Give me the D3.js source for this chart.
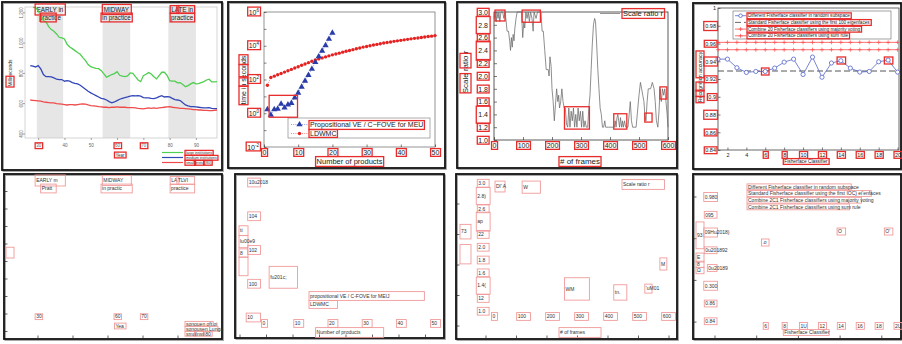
<!DOCTYPE html>
<html>
<head>
<meta charset="utf-8">
<script src="https://cdn.jsdelivr.net/npm/d3@7/dist/d3.min.js"></script>
<style>
html, body { margin: 0; padding: 0; background: #fff; }
svg { display: block; }
</style>
</head>
<body>
<svg id="fig" width="902" height="344"></svg>
<script>
// ---------- A: response time per year, by institution size ----------
const years = [27,28,29,30,31,32,33,34,35,36,37,38,39,40,41,42,43,44,45,46,47,48,49,50,51,52,53,54,55,56,57,58,59,60,61,62,63,64,65,66,67,68,69,70,71,72,73,74,75,76,77,78,79,80,81,82,83,84,85,86,87,88,89,90,91,92,93,94,95,96,97,98];
const largeInst = [null,1232,1231,1211,1178,1145,1136,1105,1086,1075,1057,1035,1031,1024,989,971,960,947,934,923,901,881,855,841,835,830,828,815,793,771,780,789,795,808,784,778,775,780,800,797,775,753,742,782,791,802,793,775,760,782,804,804,784,749,745,745,734,736,723,709,716,727,736,727,729,736,742,753,758,740,740,742];
const mediumInst = [848,844,839,848,826,789,775,775,773,767,758,756,756,745,749,745,736,731,727,718,705,692,679,668,659,650,641,632,628,621,610,602,608,617,626,632,637,641,646,650,648,650,646,637,635,635,632,630,635,643,650,641,643,641,632,624,621,617,602,588,582,577,577,575,573,571,569,569,571,566,564,564];
const smallInst = [621,619,617,615,613,608,606,604,602,602,597,595,593,591,588,591,591,588,591,593,595,593,588,584,582,580,577,575,573,573,571,573,573,575,573,573,573,571,571,571,569,566,564,562,566,569,566,569,566,569,571,573,575,577,573,571,569,566,566,564,562,560,558,558,555,555,553,553,551,551,553,555];
const eraBands = [[29.5, 39.5], [54.5, 65], [79.5, 90]];
const eraNames = [["EARLY in", "practice"], ["MIDWAY", "in practice"], ["LATE in", "practice"]];
const yTicksA = [400, 600, 800, 1000, 1200];
const xTicksA = [30, 40, 50, 60, 70, 80, 90];
const namesA = ["large institutions", "medium institutions", "small insts. (80)"];

// ---------- B: run time against number of products ----------
const productsB = [1,2,3,4,5,6,7,8,9,10,11,12,13,14,15,16,17,18,19,20];
const propositionalVE = [1.7,0.8,1.7,1.8,3.6,2.1,3.2,4.0,8.3,16,36,83,182,417,1050,2290,5000,10500,25100,57500];
const productsL = [1,2,3,4,5,6,7,8,9,10,11,12,13,14,15,16,17,18,19,20,21,22,23,24,25,26,27,28,29,30,31,32,33,34,35,36,37,38,39,40,41,42,43,44,45,46,47,48,49,50];
const ldwmc = [46,132,158,191,229,275,331,398,479,575,692,832,1000,1202,1445,1660,1905,2188,2512,2884,3236,3631,4169,4677,5248,5888,6607,7413,8318,9120,10000,10965,12023,13183,14454,15488,16596,18197,19498,20893,22387,23988,25704,27542,28840,30903,33113,35481,37154,39811];
const yTicksB = [1e-2, 1, 1e2, 1e4, 1e6];
const xTicksB = [0, 10, 20, 30, 40, 50];
const namesB = ["Propositional VE / C\u2212FOVE for MEU", "LDWMC"];

// ---------- C: scale ratio over frames ----------
const framesC = [0,3,8,10,14,17,20,24,30,34,38,42,45,50,54,57,60,63,66,69,72,76,80,95,99,103,106,110,114,118,122,126,131,135,138,145,150,162,166,170,175,180,187,190,193,197,200,204,208,212,216,220,223,226,230,234,238,242,246,250,254,258,262,266,270,274,278,282,286,290,294,298,302,306,310,314,318,323,327,331,335,339,343,347,350,354,358,362,366,370,374,378,382,385,395,415,418,421,424,427,430,433,436,440,443,446,450,454,462,466,470,474,478,490,496,500,505,509,513,517,520,524,528,532,540,546,552,556,560,565,569,573,577,581,585,589,593,597,600];
const ratioC = [2.9,3.0,2.85,3.0,2.9,3.0,2.85,3.0,3.0,2.9,
  3.0,2.85,2.7,2.7,2.55,2.4,2.6,2.45,2.65,2.55,
  2.75,2.9,3.0,3.0,2.6,2.85,2.75,3.0,2.9,3.0,
  2.85,3.0,2.9,2.7,3.0,2.9,3.0,3.0,2.7,2.7,
  2.4,2.1,2.1,2.0,2.3,2.15,1.8,1.6,1.3,1.55,
  1.8,1.6,1.7,1.5,1.6,1.8,1.6,1.5,1.5,1.25,
  1.2,1.5,1.2,1.45,1.3,1.5,1.2,1.4,1.2,1.5,
  1.3,1.45,1.2,1.45,1.2,1.3,1.2,1.2,1.5,1.7,
  2.1,2.5,2.8,2.9,2.85,2.5,2.1,1.8,1.5,1.4,
  1.2,1.2,1.3,1.2,1.2,1.2,1.3,1.2,1.35,1.4,
  1.3,1.2,1.35,1.2,1.3,1.2,1.3,1.2,1.2,1.4,
  1.6,1.3,1.2,1.2,1.5,1.7,1.9,1.8,1.7,1.6,
  1.4,1.3,1.6,1.8,1.8,1.9,1.8,1.6,1.3,1.2,
  1.45,1.8,1.6,1.8,1.7,1.8,1.6,1.4,1.2];
const yTicksC = [1.0,1.2,1.4,1.6,1.8,2.0,2.2,2.4,2.6,2.8,3.0];
const xTicksC = [0, 100, 200, 300, 400, 500, 600];

// ---------- D: recognition accuracy per Fisherface classifier ----------
const classifiers = [1,2,3,4,5,6,7,8,9,10,11,12,13,14,15,16,17,18,19,20];
const randomSubspace = [0.9424,0.9424,0.9327,0.9274,0.9285,0.9285,0.9323,0.9390,0.9424,0.9251,0.9447,0.9220,0.9380,0.9406,0.9323,0.9278,0.9285,0.9394,0.9413,0.9278];
const standard100 = [0.929,0.929,0.929,0.929,0.929,0.929,0.929,0.929,0.929,0.929,0.929,0.929,0.929,0.929,0.929,0.929,0.929,0.929,0.929,0.929];
const majorityVote = [0.9613,0.9613,0.9613,0.9613,0.9613,0.9613,0.9613,0.9613,0.9613,0.9613,0.9613,0.9613,0.9613,0.9613,0.9613,0.9613,0.9613,0.9613,0.9613,0.9613];
const sumRule = [0.953,0.953,0.953,0.953,0.953,0.953,0.953,0.953,0.953,0.953,0.953,0.953,0.953,0.953,0.953,0.953,0.953,0.953,0.953,0.953];
const yTicksD = [0.84,0.86,0.88,0.9,0.92,0.94,0.96,0.98,1];
const xTicksD = [2,4,6,8,10,12,14,16,18,20];
const namesD = ["Different Fisherface classifier in random subspace",
  "Standard Fisherface classifier using the first 100 eigenfaces",
  "Combine 20 Fisherface classifiers using majority voting",
  "Combine 20 Fisherface classifiers using sum rule"];

// ---------- recognised text regions (text key or data region -> reading) ----------
const ocrA = [
  {k:"A-era0-0", t:"EARLY m", pad:[1.5,2]}, {k:"A-era0-1", t:"Pratt", f:[0.12,0.72]},
  {k:"A-era1-0", t:"MIDWAY", pad:[1.5,1.5]}, {k:"A-era1-1", t:"in practic"},
  {k:"A-era2-0", t:"LA", f:[0,0.3]}, {k:"A-era2-0", t:"TLVI", f:[0.3,1]},
  {k:"A-era2-1", t:"practice"},
  {k:"A-ylab", t:"", f:[0,0.36]},
  {k:"A-x-30", t:"30"}, {k:"A-x-60", t:"60"}, {k:"A-x-70", t:"70"},
  {k:"A-xlab", t:"Yea"},
  {k:"A-leg0", t:"sonouen oft.oi"}, {k:"A-leg1", t:"sonousen Lunga"},
  {k:"A-leg2", t:"sma", f:[0,0.34]}, {k:"A-leg2", t:"Insti", f:[0.38,0.66]}, {k:"A-leg2", t:"80", f:[0.76,1]}
];
const ocrB = [
  {k:"B-y-6", t:"10u2018"}, {k:"B-y-4", t:"104"}, {k:"B-y-2", t:"102"}, {k:"B-y-0", t:"100"}, {k:"B-y--2", t:"10"},
  {k:"B-x-0", t:"0"}, {k:"B-x-10", t:"10"}, {k:"B-x-20", t:"20"}, {k:"B-x-30", t:"30"}, {k:"B-x-40", t:"40"}, {k:"B-x-50", t:"50"},
  {k:"B-xlab", t:"Number of products"},
  {k:"B-ylab", t:"ti", f:[0.82,1]}, {k:"B-ylab", t:"lu00e9", f:[0.57,0.8]}, {k:"B-ylab", t:"8", f:[0.38,0.53]}, {k:"B-ylab", t:"", f:[0,0.36]},
  {r:[1.5, 9.8, 0.58, 11.5], t:"fu201c;"},
  {k:"B-leg0", t:"propositional VE / C-FOVE for MEIJ"}, {k:"B-leg1", t:"LDWMC"}
];
const ocrC = [
  {k:"C-y-3.0", t:"3.0"}, {k:"C-y-2.8", t:"2.8)", pad:[2,5]}, {k:"C-y-2.6", t:"2.6"},
  {k:"C-y-2.4", t:"ap", pad:[2,6]}, {k:"C-y-2.2", t:"22"}, {k:"C-y-2.0", t:"2.0"},
  {k:"C-y-1.8", t:"1.8"}, {k:"C-y-1.6", t:"1.6"}, {k:"C-y-1.4", t:"1.4(", pad:[2,5]},
  {k:"C-y-1.2", t:"12"}, {k:"C-y-1.0", t:"1.0"},
  {k:"C-ylab", t:"73", f:[0.6,0.92]}, {k:"C-ylab", t:"", f:[0.02,0.45]},
  {r:[3.5, 38, 3.03, 2.86], t:"Dl' A"}, {r:[97, 160, 3.03, 2.84], t:"W"},
  {r:[243, 329, 1.52, 1.17], t:"WM"}, {r:[413, 458, 1.41, 1.17], t:"tn."},
  {r:[520, 545, 1.42, 1.28], t:"'uM01"}, {r:[572, 596, 1.83, 1.64], t:"M"},
  {k:"C-x-0", t:"0"}, {k:"C-x-100", t:"100"}, {k:"C-x-200", t:"200"}, {k:"C-x-300", t:"300"},
  {k:"C-x-400", t:"400"}, {k:"C-x-500", t:"500"}, {k:"C-x-600", t:"600"},
  {k:"C-xlab", t:"# of frames"}, {k:"C-leg0", t:"Scale ratio r"}
];
const ocrD = [
  {k:"D-leg0", t:"Different Fisherface classifier in random subspace"},
  {k:"D-leg1", t:"Standard Fisherface classifier using the first IOC) ei'enfaces"},
  {k:"D-leg2", t:"Combine 2C1 Fisherface classifiers using majority voting"},
  {k:"D-leg3", t:"Combine 2C1 Fisherface classifiers using sum rule"},
  {k:"D-y-0.98", t:"0.980", pad:[1.5,1.5]}, {k:"D-y-0.96", t:"095"}, {k:"D-y-0.94", t:"09Hu2018)", pad:[1.5,1.5]},
  {k:"D-y-0.92", t:"0u201892"}, {k:"D-y-0.9", t:"0u20189"}, {k:"D-y-0.88", t:"0.300", pad:[1.5,1.5]},
  {k:"D-y-0.86", t:"0.86"}, {k:"D-y-0.84", t:"0.84"},
  {k:"D-ylab", t:"93", f:[0.49,1]}, {k:"D-ylab", t:"E", f:[0.23,0.39]}, {k:"D-ylab", t:"8", f:[0.12,0.23]}, {k:"D-ylab", t:"\u03a9", f:[0,0.11]},
  {r:[5.6, 6.4, 0.9324, 0.9245], t:".o"}, {r:[13.6, 14.5, 0.9448, 0.9369], t:"O"}, {r:[18.6, 19.5, 0.9448, 0.9369], t:"O'"},
  {k:"D-x-6", t:"6"}, {k:"D-x-8", t:"8"}, {k:"D-x-10", t:"1U"}, {k:"D-x-12", t:"12"},
  {k:"D-x-14", t:"14"}, {k:"D-x-16", t:"16"}, {k:"D-x-18", t:"18"}, {k:"D-x-20", t:"2U"},
  {k:"D-xlab", t:"Fisherface Classifier"}
];

// ================= drawing =================
const FONT = '"Liberation Sans", Arial, Helvetica, sans-serif';
const svg = d3.select("#fig").attr("font-family", FONT);
const SHIFT = 171;                     // vertical offset of the text-reading row
const layerFrames = svg.append("g");
const layerCharts = svg.append("g");
const layerBoxes = svg.append("g");

function frame(x0, y0, x1, y1) {
  layerFrames.append("rect").attr("x", x0 + 1.2).attr("y", y0 + 1.2)
    .attr("width", x1 - x0).attr("height", y1 - y0)
    .attr("fill", "none").attr("stroke", "#a0a0a0").attr("stroke-width", 1.4);
  layerFrames.append("rect").attr("x", x0).attr("y", y0)
    .attr("width", x1 - x0).attr("height", y1 - y0)
    .attr("fill", "none").attr("stroke", "#111").attr("stroke-width", 1.8);
}
function tidy(g, size, color) {
  g.attr("font-size", size).attr("font-family", FONT);
  g.selectAll("text").attr("fill", color);
  g.selectAll("line").attr("stroke", color).attr("stroke-width", 0.6);
  g.select(".domain").remove();
  return g;
}
function plotBox(g, xs, ys, color, w) {
  const [x0, x1] = xs.range(), [y1, y0] = ys.range();
  g.append("rect").attr("x", x0).attr("y", y0).attr("width", x1 - x0).attr("height", y1 - y0)
    .attr("fill", "none").attr("stroke", color).attr("stroke-width", w);
}

// ---------------- panel A ----------------
{
  const g = layerCharts.append("g");
  const xs = d3.scaleLinear().domain([25, 98]).range([25, 217]);
  const ys = d3.scaleLinear().domain([370, 1235]).range([138, 7]);
  g.selectAll(".band").data(eraBands).join("rect")
    .attr("x", d => xs(d[0])).attr("width", d => xs(d[1]) - xs(d[0]))
    .attr("y", ys.range()[1]).attr("height", ys.range()[0] - ys.range()[1])
    .attr("fill", "#e6e6e6");
  plotBox(g, xs, ys, "#c4c4c4", 0.7);

  const ay = g.append("g").attr("transform", `translate(${xs.range()[0]},0)`)
    .call(d3.axisLeft(ys).tickValues(yTicksA).tickSize(2));
  tidy(ay, 4.5, "#666");
  ay.selectAll(".tick text").attr("transform", "rotate(-90)").attr("x", 0).attr("y", -2.5)
    .attr("dy", 0).attr("text-anchor", "middle").attr("data-k", d => "A-y-" + d);
  const ax = g.append("g").attr("transform", `translate(0,${ys.range()[0]})`)
    .call(d3.axisBottom(xs).tickValues(xTicksA).tickSize(2).tickPadding(4));
  tidy(ax, 4.5, "#666");
  ax.selectAll(".tick text").attr("data-k", d => "A-x-" + d);

  eraBands.forEach((b, i) => {
    const cx = (xs(b[0]) + xs(b[1])) / 2;
    eraNames[i].forEach((t, j) => g.append("text").attr("x", cx).attr("y", 12 + j * 7.5)
      .attr("text-anchor", "middle").attr("font-size", 6.3).attr("fill", "#222")
      .attr("data-k", `A-era${i}-${j}`).text(t));
  });

  const seriesA = [
    {vals: largeInst, color: "#4fcf4f"},
    {vals: mediumInst, color: "#3346b8"},
    {vals: smallInst, color: "#ef4b4b"}
  ];
  const line = d3.line().defined(d => d[1] != null).x(d => xs(d[0])).y(d => ys(d[1]));
  seriesA.forEach(s => g.append("path").datum(years.map((y, i) => [y, s.vals[i]]))
    .attr("d", line).attr("fill", "none").attr("stroke", s.color).attr("stroke-width", 1.3));

  seriesA.forEach((s, i) => {
    const y = 152.5 + i * 5;
    g.append("line").attr("x1", 162).attr("x2", 183).attr("y1", y).attr("y2", y)
      .attr("stroke", s.color).attr("stroke-width", 1.2);
    g.append("text").attr("x", 186).attr("y", y + 1.3).attr("font-size", 3.6).attr("fill", "#333")
      .attr("data-k", "A-leg" + i).text(namesA[i]);
  });
  g.append("text").attr("transform", "translate(12,73) rotate(-90)").attr("text-anchor", "middle")
    .attr("font-size", 5).attr("fill", "#333").attr("data-k", "A-ylab").text("Milliseconds");
  g.append("text").attr("x", 120).attr("y", 156.5).attr("text-anchor", "middle")
    .attr("font-size", 4.5).attr("fill", "#333").attr("data-k", "A-xlab").text("Year");
  frame(2, 2, 222, 170);
  window.scaleA = [xs, ys];
}

// ---------------- panel B ----------------
{
  const g = layerCharts.append("g");
  const xs = d3.scaleLinear().domain([0, 50]).range([264, 435]);
  const ys = d3.scaleLog().domain([1e-2, 1e6]).range([147, 12]);
  plotBox(g, xs, ys, "#666", 0.7);
  const decades = [1e-2, 1e-1, 1, 1e1, 1e2, 1e3, 1e4, 1e5, 1e6];
  const ay = g.append("g").attr("transform", `translate(${xs.range()[0]},0)`)
    .call(d3.axisLeft(ys).tickValues(decades).tickSize(-2.5).tickFormat(""));
  tidy(ay, 7, "#333");
  yTicksB.forEach(v => {
    const e = Math.round(Math.log10(v));
    const t = g.append("text").attr("x", 259).attr("y", ys(v) + 2.5).attr("text-anchor", "end")
      .attr("font-size", 7).attr("fill", "#222").attr("data-k", "B-y-" + e);
    t.append("tspan").text("10");
    t.append("tspan").attr("dy", -3).attr("font-size", 4.5).text(e);
  });
  const ax = g.append("g").attr("transform", `translate(0,${ys.range()[0]})`)
    .call(d3.axisBottom(xs).tickValues(xTicksB).tickSize(-2.5).tickPadding(3));
  tidy(ax, 7, "#222");
  ax.selectAll(".tick text").attr("data-k", d => "B-x-" + d);

  const line = d3.line().x(d => xs(d[0])).y(d => ys(d[1]));
  const blue = productsB.map((p, i) => [p, propositionalVE[i]]);
  const red = productsL.map((p, i) => [p, ldwmc[i]]);
  g.append("path").datum(red).attr("d", line).attr("fill", "none")
    .attr("stroke", "#f06a6a").attr("stroke-width", 0.8).attr("stroke-dasharray", "1,1.2");
  g.append("path").datum(blue).attr("d", line).attr("fill", "none")
    .attr("stroke", "#7888d8").attr("stroke-width", 0.8).attr("stroke-dasharray", "1,1.2");
  g.selectAll(".dotR").data(red).join("circle").attr("cx", d => xs(d[0])).attr("cy", d => ys(d[1]))
    .attr("r", 1.7).attr("fill", "#e42222");
  const tri = d3.symbol(d3.symbolTriangle, 17);
  g.selectAll(".triB").data(blue).join("path")
    .attr("transform", d => `translate(${xs(d[0])},${ys(d[1])})`).attr("d", tri).attr("fill", "#2a3ca8");

  g.append("rect").attr("x", 288).attr("y", 118).attr("width", 142).attr("height", 20)
    .attr("fill", "#fff").attr("stroke", "#777").attr("stroke-width", 0.6);
  [["#7888d8", "tri"], ["#f06a6a", "dot"]].forEach((m, i) => {
    const y = 124.5 + i * 9;
    g.append("line").attr("x1", 291).attr("x2", 308).attr("y1", y).attr("y2", y)
      .attr("stroke", m[0]).attr("stroke-width", 0.8).attr("stroke-dasharray", "1,1.2");
    if (m[1] === "tri") g.append("path").attr("transform", `translate(299.5,${y})`).attr("d", tri).attr("fill", "#2a3ca8");
    else g.append("circle").attr("cx", 299.5).attr("cy", y).attr("r", 1.7).attr("fill", "#e42222");
    g.append("text").attr("x", 310).attr("y", y + 2.5).attr("font-size", 7).attr("fill", "#222")
      .attr("data-k", "B-leg" + i).text(namesB[i]);
  });
  g.append("text").attr("transform", "translate(246,80) rotate(-90)").attr("text-anchor", "middle")
    .attr("font-size", 7).attr("fill", "#222").attr("data-k", "B-ylab").text("time in seconds");
  g.append("text").attr("x", 349.5).attr("y", 164).attr("text-anchor", "middle")
    .attr("font-size", 7.5).attr("fill", "#222").attr("data-k", "B-xlab").text("Number of products");
  frame(228, 2, 445, 168);
  window.scaleB = [xs, ys];
}

// ---------------- panel C ----------------
{
  const g = layerCharts.append("g");
  const xs = d3.scaleLinear().domain([0, 600]).range([494, 668]);
  const ys = d3.scaleLinear().domain([1, 3]).range([140, 12]);
  const fmt = d3.format(".1f");
  const ay = g.append("g").attr("transform", `translate(${xs.range()[0]},0)`)
    .call(d3.axisLeft(ys).tickValues(yTicksC).tickSize(-3).tickPadding(6).tickFormat(fmt));
  tidy(ay, 7, "#222");
  ay.selectAll(".tick text").attr("data-k", d => "C-y-" + fmt(d));
  const ax = g.append("g").attr("transform", `translate(0,${ys.range()[0]})`)
    .call(d3.axisBottom(xs).tickValues(xTicksC).tickSize(-3).tickPadding(3));
  tidy(ax, 7, "#222");
  ax.selectAll(".tick text").attr("data-k", d => "C-x-" + d);
  plotBox(g, xs, ys, "#333", 0.8);

  const line = d3.line().x(d => xs(d[0])).y(d => ys(d[1]));
  g.append("path").datum(framesC.map((f, i) => [f, ratioC[i]])).attr("d", line)
    .attr("fill", "none").attr("stroke", "#6a6a6a").attr("stroke-width", 0.75);

  g.append("line").attr("x1", 600).attr("x2", 620).attr("y1", 13.5).attr("y2", 13.5)
    .attr("stroke", "#888").attr("stroke-width", 0.9);
  g.append("text").attr("x", 623).attr("y", 16).attr("font-size", 7.5).attr("fill", "#222")
    .attr("data-k", "C-leg0").text("Scale ratio r");
  g.append("text").attr("transform", "translate(468,72) rotate(-90)").attr("text-anchor", "middle")
    .attr("font-size", 8).attr("fill", "#222").attr("data-k", "C-ylab").text("Scale ratio r");
  g.append("text").attr("x", 580).attr("y", 164).attr("text-anchor", "middle")
    .attr("font-size", 8).attr("fill", "#222").attr("data-k", "C-xlab").text("# of frames");
  frame(457, 2, 677, 168);
  window.scaleC = [xs, ys];
}

// ---------------- panel D ----------------
{
  const g = layerCharts.append("g");
  const xs = d3.scaleLinear().domain([1, 20.15]).range([718, 899]);
  const ys = d3.scaleLinear().domain([0.84, 1]).range([150, 8]);
  const ay = g.append("g").attr("transform", `translate(${xs.range()[0]},0)`)
    .call(d3.axisLeft(ys).tickValues(yTicksD).tickSize(-2.5).tickPadding(2).tickFormat(d => String(d)));
  tidy(ay, 5.5, "#222");
  ay.selectAll(".tick text").attr("data-k", d => "D-y-" + d);
  const ax = g.append("g").attr("transform", `translate(0,${ys.range()[0]})`)
    .call(d3.axisBottom(xs).tickValues(xTicksD).tickSize(-2.5).tickPadding(3));
  tidy(ax, 5.5, "#222");
  ax.selectAll(".tick text").attr("data-k", d => "D-x-" + d);
  plotBox(g, xs, ys, "#444", 0.8);

  const line = d3.line().x(d => xs(d[0])).y(d => ys(d[1]));
  const plus = "M-2,0H2M0,-2V2";
  [majorityVote, sumRule].forEach(vals => {
    const pts = classifiers.map((c, i) => [c, vals[i]]);
    g.append("path").datum(pts).attr("d", line).attr("fill", "none")
      .attr("stroke", "#ff4a4a").attr("stroke-width", 0.8);
    g.selectAll(null).data(pts).join("path")
      .attr("transform", d => `translate(${xs(d[0])},${ys(d[1])})`).attr("d", plus)
      .attr("stroke", "#ff4a4a").attr("stroke-width", 0.7).attr("fill", "none");
  });
  g.append("path").datum(classifiers.map((c, i) => [c, standard100[i]])).attr("d", line)
    .attr("fill", "none").attr("stroke", "#555").attr("stroke-width", 1).attr("stroke-dasharray", "6,3");
  const pts = classifiers.map((c, i) => [c, randomSubspace[i]]);
  g.append("path").datum(pts).attr("d", line).attr("fill", "none")
    .attr("stroke", "#5566c8").attr("stroke-width", 0.8);
  g.selectAll(".circD").data(pts).join("circle").attr("cx", d => xs(d[0])).attr("cy", d => ys(d[1]))
    .attr("r", 2.1).attr("fill", "#fff").attr("stroke", "#5566c8").attr("stroke-width", 0.8);

  g.append("rect").attr("x", 733).attr("y", 11).attr("width", 158).attr("height", 28)
    .attr("fill", "#fff").attr("stroke", "#666").attr("stroke-width", 0.6);
  namesD.forEach((n, i) => {
    const y = 15.7 + i * 6.7;
    const ln = g.append("line").attr("x1", 735).attr("x2", 746).attr("y1", y).attr("y2", y)
      .attr("stroke-width", 0.8);
    if (i === 0) {
      ln.attr("stroke", "#5566c8");
      g.append("circle").attr("cx", 740.5).attr("cy", y).attr("r", 1.8)
        .attr("fill", "#fff").attr("stroke", "#5566c8").attr("stroke-width", 0.8);
    } else if (i === 1) {
      ln.attr("stroke", "#444").attr("stroke-dasharray", "6,3");
    } else {
      ln.attr("stroke", "#ff4a4a");
      g.append("path").attr("transform", `translate(740.5,${y})`).attr("d", plus)
        .attr("stroke", "#ff4a4a").attr("stroke-width", 0.7);
    }
    g.append("text").attr("x", 748).attr("y", y + 1.6).attr("font-size", 4.6).attr("fill", "#222")
      .attr("data-k", "D-leg" + i).text(n);
  });
  g.append("text").attr("transform", "translate(702,77) rotate(-90)").attr("text-anchor", "middle")
    .attr("font-size", 5.3).attr("fill", "#222").attr("data-k", "D-ylab").text("Recognition accuracy");
  g.append("text").attr("x", 806).attr("y", 163).attr("text-anchor", "middle")
    .attr("font-size", 4.8).attr("fill", "#222").attr("data-k", "D-xlab").text("Fisherface Classifier");
  frame(693, 3, 901, 169);
  window.scaleD = [xs, ys];
}

// ---------------- lower row: text-reading previews ----------------
const previews = [
  {box: [4, 174, 222, 339], ox: 3, oy: 174, s: 0.35, xt: [100, 200, 300, 400, 500], yt: [50, 100, 150, 200, 250, 300, 350, 400, 450]},
  {box: [235, 174, 444, 338], ox: 240, oy: 174, s: 0.265, xt: [0, 100, 200, 300, 400, 500, 600, 700], yt: []},
  {box: [456, 174, 677, 339], ox: 455.5, oy: 173.5, s: 0.305, xt: [100, 200, 300, 400, 500, 600, 700], yt: [100, 200, 300, 400, 500]},
  {box: [693, 174, 901, 339], ox: 673.3, oy: 155.3, s: 0.417, xt: [100, 200, 300, 400, 500], yt: [100, 200, 300, 400]}
];
previews.forEach(p => {
  const [x0, y0, x1, y1] = p.box;
  frame(x0, y0, x1, y1);
  const sx = d3.scaleLinear().domain([0, 100]).range([p.ox, p.ox + 100 * p.s]);
  const sy = d3.scaleLinear().domain([0, 100]).range([p.oy, p.oy + 100 * p.s]);
  const g = layerCharts.append("g").attr("stroke", "#222").attr("stroke-width", 0.7);
  p.xt.forEach(v => g.append("line").attr("x1", sx(v)).attr("x2", sx(v)).attr("y1", y1 - 1).attr("y2", y1 - 3.5));
  p.yt.forEach(v => g.append("line").attr("y1", sy(v)).attr("y2", sy(v)).attr("x1", x0 + 1).attr("x2", x0 + 3.5));
});

// ---------------- detection boxes (upper row) and their readings (lower row) ----------------
function detect(list, scales) {
  const [xs, ys] = scales;
  list.forEach(d => {
    let node;
    if (d.r) {
      const a = xs(d.r[0]), b = xs(d.r[1]), c = ys(d.r[2]), e = ys(d.r[3]);
      node = layerCharts.append("rect").attr("x", Math.min(a, b)).attr("y", Math.min(c, e))
        .attr("width", Math.abs(b - a)).attr("height", Math.abs(e - c))
        .attr("fill", "none").attr("stroke", "none").node();
    } else {
      node = svg.select(`[data-k="${d.k}"]`).node();
    }
    if (!node) return;
    const bb = node.getBoundingClientRect();
    let x0 = bb.left, x1 = bb.right, y0 = bb.top, y1 = bb.bottom;
    if (d.f) {
      if (bb.height > bb.width) {
        const h = y1 - y0; const a = y1 - h * d.f[1], b = y1 - h * d.f[0]; y0 = a; y1 = b;
      } else {
        const w = x1 - x0; const a = x0 + w * d.f[0], b = x0 + w * d.f[1]; x0 = a; x1 = b;
      }
    }
    if (!d.r) {
      const pad = d.pad || [1, 0.4];
      x0 -= pad[0]; x1 += pad[0]; y0 -= pad[1]; y1 += pad[1];
    }
    layerBoxes.append("rect").attr("x", x0).attr("y", y0).attr("width", x1 - x0).attr("height", y1 - y0)
      .attr("fill", "none").attr("stroke", "#e82c2c").attr("stroke-width", 1.3);
    layerBoxes.append("rect").attr("x", x0).attr("y", y0 + SHIFT).attr("width", x1 - x0).attr("height", y1 - y0)
      .attr("fill", "none").attr("stroke", "#f19a9a").attr("stroke-width", 0.9);
    if (d.t) layerBoxes.append("text").attr("x", x0 + 1).attr("y", (y0 + y1) / 2 + SHIFT).attr("dy", "0.35em")
      .attr("font-size", 5).attr("fill", "#333").text(d.t);
  });
}
detect(ocrA, window.scaleA);
detect(ocrB, window.scaleB);
detect(ocrC, window.scaleC);
detect(ocrD, window.scaleD);
</script>
</body>
</html>
